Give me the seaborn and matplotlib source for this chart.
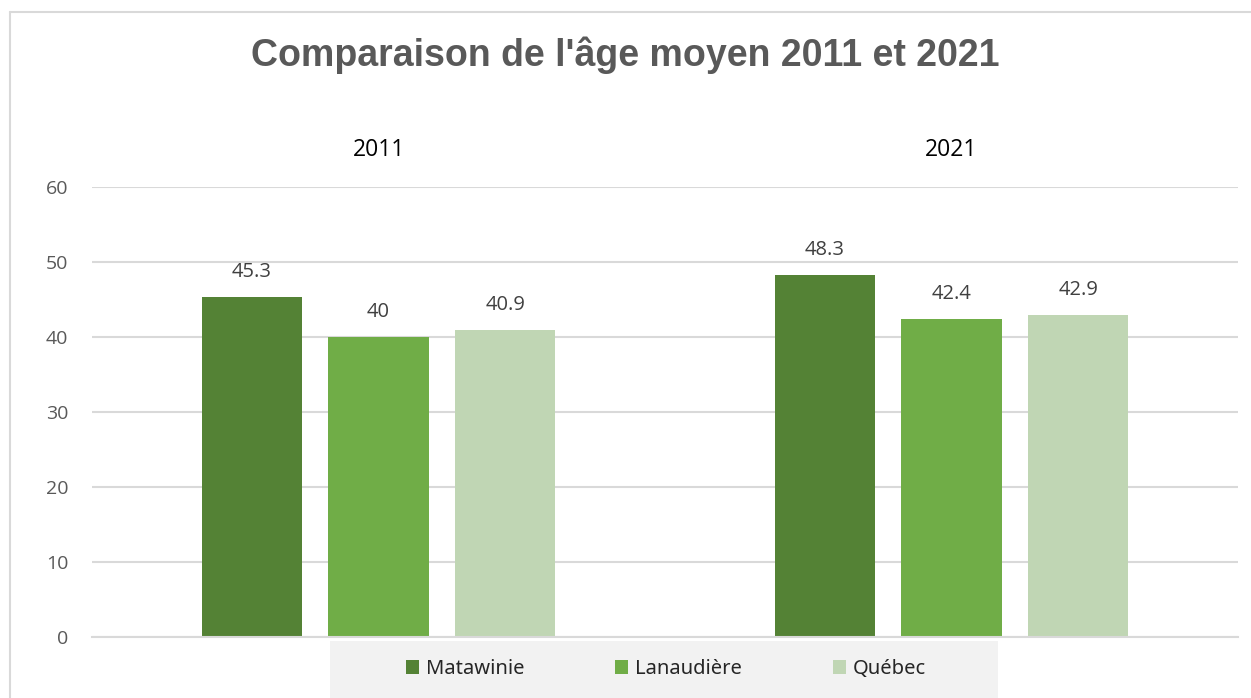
import pandas as pd
import matplotlib.pyplot as plt
import seaborn as sns
from matplotlib.patches import Patch, Rectangle
from matplotlib.lines import Line2D

years = ["2011", "2021"]
regions = ["Matawinie", "Lanaudière", "Québec"]
ages_2011 = [45.3, 40.0, 40.9]
ages_2021 = [48.3, 42.4, 42.9]
value_labels = {("2011", "Matawinie"): "45.3", ("2011", "Lanaudière"): "40",
                ("2011", "Québec"): "40.9", ("2021", "Matawinie"): "48.3",
                ("2021", "Lanaudière"): "42.4", ("2021", "Québec"): "42.9"}

palette = {"Matawinie": "#548235", "Lanaudière": "#70AD47", "Québec": "#C0D6B4"}

rows = []
for yr, vals in zip(years, [ages_2011, ages_2021]):
    for reg, v in zip(regions, vals):
        rows.append({"Année": yr, "Région": reg, "Âge": v})
df = pd.DataFrame(rows)

sns.set_style("white")
plt.rcParams["font.family"] = ["Open Sans", "DejaVu Sans"]

fig = plt.figure(figsize=(12.51, 6.98), dpi=100)
W, H = 1251, 698
ax = fig.add_axes([92 / W, 1 - 637 / H, (1238 - 92) / W, (637 - 187) / H])

sns.barplot(data=df, x="Année", y="Âge", hue="Région",
            hue_order=regions, order=years, palette=palette,
            width=0.663, gap=0.21, saturation=1, linewidth=0,
            ax=ax, legend=False)

ax.set_ylim(0, 60)
ax.set_yticks(range(0, 61, 10))
ax.yaxis.grid(True, color="#D9D9D9", linewidth=1.5)
ax.set_axisbelow(True)
for s in ["top", "right", "left"]:
    ax.spines[s].set_visible(False)
ax.spines["bottom"].set_color("#D9D9D9")
ax.spines["bottom"].set_linewidth(1.5)
ax.tick_params(axis="y", length=0, pad=17, labelsize=14, labelcolor="#595959")
ax.xaxis.tick_top()
ax.tick_params(axis="x", length=0, pad=18, labelsize=16.5, labelcolor="#000000")
ax.set_xlabel("")
ax.set_ylabel("")

# data labels
for cont, reg in zip(ax.containers, regions):
    for bar, yr in zip(cont, years):
        ax.annotate(value_labels[(yr, reg)],
                    (bar.get_x() + bar.get_width() / 2, bar.get_height()),
                    xytext=(0, 18), textcoords="offset points",
                    ha="center", va="center", fontsize=14.5, color="#404040")

fig.suptitle("Comparaison de l'âge moyen 2011 et 2021", y=1 - 55 / H, va="center",
             fontsize=27, fontweight="bold", color="#595959",
             family=["Liberation Sans", "DejaVu Sans"])

# chart border (top and left)
fig.add_artist(Line2D([10 / W, 10 / W], [0, 1 - 12 / H], transform=fig.transFigure,
                      color="#D9D9D9", linewidth=1.5))
fig.add_artist(Line2D([10 / W, 1], [1 - 12 / H, 1 - 12 / H], transform=fig.transFigure,
                      color="#D9D9D9", linewidth=1.5))

# legend box
fig.add_artist(Rectangle((330 / W, 0), (998 - 330) / W, (698 - 641) / H,
                         transform=fig.transFigure, facecolor="#F2F2F2",
                         edgecolor="none", zorder=0))
handles = [Patch(facecolor=palette[r], edgecolor="none") for r in regions]
fig.legend(handles, regions, loc="center", bbox_to_anchor=(666 / W, 1 - 669 / H),
           ncol=3, frameon=False, handlelength=0.65, handleheight=0.65,
           handletextpad=0.35, columnspacing=4.5,
           prop={"family": ["Noto Sans", "DejaVu Sans"], "size": 14.5})

fig.savefig("out.png", dpi=100)
